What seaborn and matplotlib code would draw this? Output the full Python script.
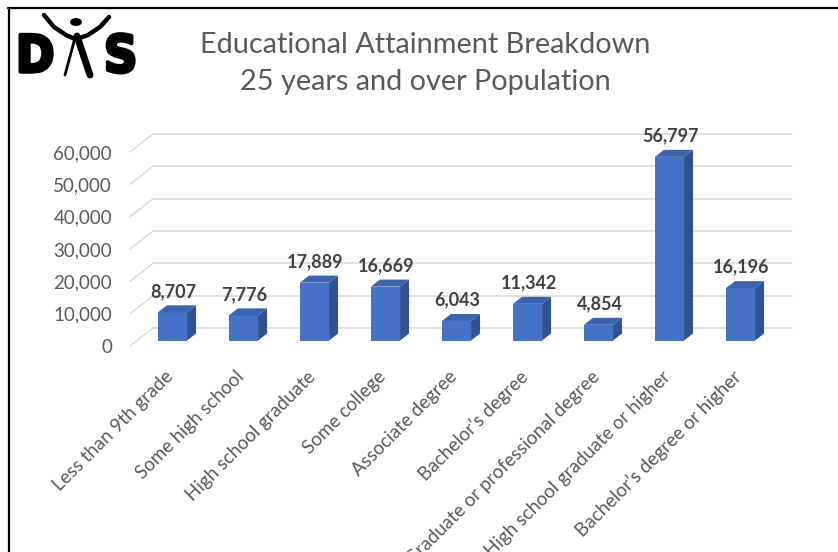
import matplotlib
matplotlib.use("Agg")
import matplotlib.pyplot as plt
import matplotlib.transforms as mtrans
import matplotlib.patheffects as pe
from matplotlib.patches import Polygon, Circle
from matplotlib.lines import Line2D
import seaborn as sns
import pandas as pd

# data
categories = ["Less than 9th grade", "Some high school", "High school graduate",
              "Some college", "Associate degree", "Bachelor’s degree",
              "Graduate or professional degree", "High school graduate or higher",
              "Bachelor’s degree or higher"]
population = [8707, 7776, 17889, 16669, 6043, 11342, 4854, 56797, 16196]
y_ticks = [0, 10000, 20000, 30000, 40000, 50000, 60000]
title_lines = ["Educational Attainment Breakdown", "25 years and over Population"]

W, H = 838, 552
FRONT = "#4472C4"
SIDE = "#2F5290"
TOP = "#3A63B0"
GRID = "#D9D9D9"
TXT = "#595959"

sns.set_theme(style="white")
plt.rcParams["font.family"] = ["Lato", "DejaVu Sans"]

fig = plt.figure(figsize=(W / 100, H / 100), dpi=100)
ax = fig.add_axes([130 / W, (H - 346) / H, 639 / W, 194 / H])

df = pd.DataFrame({"category": categories, "population": population})
sns.barplot(data=df, x="category", y="population", color=FRONT, saturation=1,
            width=0.41, ax=ax, zorder=4)
ax.set_ylim(0, 60000)
ax.set_xlim(-0.5, len(categories) - 0.5)

# pseudo 3D: bars sit a bit back, wall sits further back
bar_tr = mtrans.offset_copy(ax.transData, fig, x=7, y=5.5, units="dots")
back_tr = mtrans.offset_copy(ax.transData, fig, x=23, y=18, units="dots")
ident = mtrans.IdentityTransform()
bdx, bdy = 9, 7

# back wall gridlines + left wall diagonals
x0, x1 = ax.get_xlim()
for y in y_ticks:
    ax.plot([x0, x1], [y, y], transform=back_tr, color=GRID, lw=1.1,
            clip_on=False, zorder=1)
    p0 = ax.transData.transform((x0, y))
    p1 = back_tr.transform((x0, y))
    ax.add_line(Line2D([p0[0], p1[0]], [p0[1], p1[1]], transform=ident,
                       color=GRID, lw=1.0, clip_on=False, zorder=1))

for patch in ax.patches:
    patch.set_transform(bar_tr)
    patch.set_clip_on(False)
    patch.set_edgecolor("none")
    bx = patch.get_x()
    bw = patch.get_width()
    bh = patch.get_height()
    (lx, by), (rx, ty) = bar_tr.transform([(bx, 0), (bx + bw, bh)])
    side = [(rx, by), (rx + bdx, by + bdy), (rx + bdx, ty + bdy), (rx, ty)]
    top = [(lx, ty), (rx, ty), (rx + bdx, ty + bdy), (lx + bdx, ty + bdy)]
    ax.add_patch(Polygon(side, closed=True, transform=ident, facecolor=SIDE,
                         edgecolor="none", clip_on=False, zorder=3))
    ax.add_patch(Polygon(top, closed=True, transform=ident, facecolor=TOP,
                         edgecolor="none", clip_on=False, zorder=5))

# value labels
lab_tr = mtrans.offset_copy(ax.transData, fig, x=8, y=21, units="dots")
for i, v in enumerate(population):
    ax.text(i, v, f"{v:,}", transform=lab_tr, ha="center", va="baseline",
            fontsize=13, fontweight="bold", color="#404040", clip_on=False)

# axes
ax.set_yticks(y_ticks)
ax.set_yticklabels([f"{t:,}" for t in y_ticks])
ax.tick_params(axis="y", length=0, pad=13, labelsize=13.5, labelcolor=TXT)
ax.set_xticks(range(len(categories)))
ax.set_xticklabels([""] * len(categories))
ax.tick_params(axis="x", length=0)
ax.set_xlabel("")
ax.set_ylabel("")
for s in ax.spines.values():
    s.set_visible(False)
ax.patch.set_alpha(0)

# the reference crops the longest labels at the bottom edge as well
xl_tr = mtrans.offset_copy(ax.get_xaxis_transform(), fig, x=5, y=-28, units="dots")
for i, c in enumerate(categories):
    ax.text(i, 0, c, transform=xl_tr, rotation=45, rotation_mode="anchor",
            ha="right", va="center", fontsize=13.5, color=TXT, clip_on=False)

# title
fig.text(425 / W, 1 - 45 / H, title_lines[0], ha="center", va="center",
         fontsize=20.8, color=TXT)
fig.text(425 / W, 1 - 82 / H, title_lines[1], ha="center", va="center",
         fontsize=20.8, color=TXT)


# logo
def px(x, y):
    return x / W, 1 - y / H


logo_font = dict(fontsize=37, fontweight="bold", fontstretch="condensed",
                 family=["DejaVu Sans"], color="black",
                 path_effects=[pe.withStroke(linewidth=2.5, foreground="black")])
fig.text(*px(16, 58), "D", ha="left", va="center", **logo_font)
fig.text(*px(104, 58), "S", ha="left", va="center", **logo_font)
fig.add_artist(Circle(px(76, 22), 6 / W, transform=fig.transFigure,
                      facecolor="black", edgecolor="none"))
for xs, ys, lw in [([44, 54, 66, 75], [15, 27, 35, 39], 3.2),
                   ([77, 88, 100, 109], [39, 35, 27, 17], 3.2),
                   ([75, 65], [38, 75], 2.0),
                   ([77, 90], [36, 75], 5.0)]:
    fx = [x / W for x in xs]
    fy = [1 - y / H for y in ys]
    fig.add_artist(Line2D(fx, fy, color="black", lw=lw, solid_capstyle="round"))

# frame of the screenshot
fig.add_artist(Line2D([8 / W, 1], [1 - 8 / H, 1 - 8 / H], color="black", lw=1.6))
fig.add_artist(Line2D([9 / W, 9 / W], [0, 1 - 8 / H], color="black", lw=1.6))

fig.savefig("out.png", dpi=100, facecolor="white")
